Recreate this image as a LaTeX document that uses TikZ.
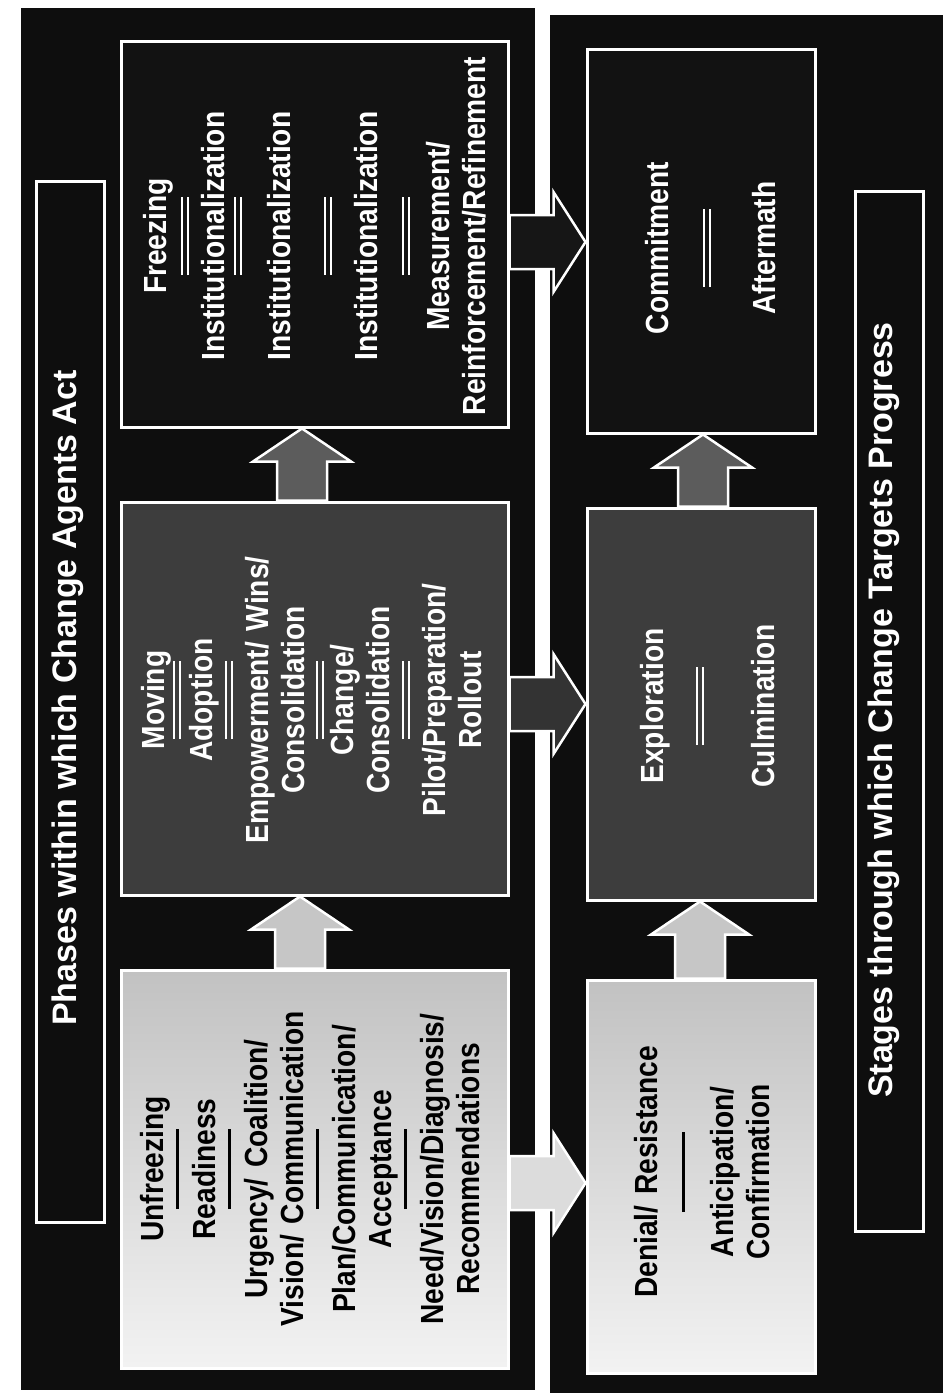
\documentclass[tikz,border=0pt]{standalone}
\usepackage{fontspec}
\setmainfont{Liberation Sans}
\newfontfamily\bxfont[FakeStretch=0.88]{Liberation Sans}
\usetikzlibrary{calc}
\definecolor{panelc}{HTML}{0E0E0E}
\definecolor{midc}{HTML}{3D3D3D}
\definecolor{darkc}{HTML}{121212}
\definecolor{arrowmid}{HTML}{5C5C5C}
\definecolor{arrowmd2}{HTML}{333333}
\definecolor{arrowdk}{HTML}{161616}
\definecolor{arrowlt}{HTML}{C6C6C6}
\definecolor{arrowlt2}{HTML}{DCDCDC}
\newcommand\sepS[2]{\\[#1]\raisebox{10pt}{\rule{80pt}{3.5pt}}\\[#2]}
\newcommand\sepD[2]{\\[#1]\raisebox{8pt}{\rlap{\rule{78pt}{2pt}}\raisebox{6pt}{\rule{78pt}{2pt}}}\\[#2]}
\newcommand\blockright[4]{\draw[#4] let \p1=(#1.east), \p2=(#2.west) in
  (\x1,#3pt+27pt) -- (\x2-32pt,#3pt+27pt) -- (\x2-32pt,#3pt+50pt) -- (\x2,#3pt)
  -- (\x2-32pt,#3pt-50pt) -- (\x2-32pt,#3pt-27pt) -- (\x1,#3pt-27pt) -- cycle;}
\newcommand\blockup[4]{\draw[#4] let \p1=(#1.north), \p2=(#2.south) in
  (#3pt-25pt,\y1) -- (#3pt-25pt,\y2-33pt) -- (#3pt-49pt,\y2-33pt) -- (#3pt,\y2)
  -- (#3pt+49pt,\y2-33pt) -- (#3pt+25pt,\y2-33pt) -- (#3pt+25pt,\y1) -- cycle;}
\tikzset{
  box/.style={draw=white, line width=3pt, inner sep=0pt},
  lightbox/.style={box, top color=black!24, bottom color=black!5},
  midbox/.style={box, fill=midc},
  darkbox/.style={box, fill=darkc},
  titlebox/.style={box, fill=panelc},
  btext/.style={rotate=90, text width=370pt, align=center, inner sep=0pt,
    font=\bxfont\bfseries\fontsize{32}{36}\selectfont},
  ttext/.style={rotate=90, inner sep=0pt, text=white,
    font=\bfseries\fontsize{34}{40}\selectfont},
  barrow/.style={draw=white, line width=2.5pt, line join=miter},
}
\begin{document}
\begin{tikzpicture}[x=1pt,y=1pt]
\useasboundingbox (0,0) rectangle (943,-1399);
\fill[white] (0,0) rectangle (943,-1399);
% panels
\fill[panelc] (21,-8) rectangle (535,-1390);
\fill[panelc] (550,-15) rectangle (943,-1393);
% title boxes
\node[titlebox, minimum width=68pt, minimum height=1040pt] (P) at (70,-702) {};
\node[ttext] (Pt) at (68,-698) {Phases within which Change Agents Act};
\node[titlebox, minimum width=68pt, minimum height=1039pt] (S) at (889,-711.5) {};
\node[ttext] (St) at (884,-710) {Stages through which Change Targets Progress};
% left column boxes
\node[darkbox, minimum width=387pt, minimum height=385pt] (F) at (314.5,-234.5) {};
\node[midbox, minimum width=387pt, minimum height=393pt] (M) at (314.5,-698.5) {};
\node[lightbox, minimum width=387pt, minimum height=398pt] (U) at (314.5,-1169) {};
% right column boxes
\node[darkbox, minimum width=228pt, minimum height=383pt] (C) at (701,-241.5) {};
\node[midbox, minimum width=228pt, minimum height=392pt] (E) at (701,-704) {};
\node[lightbox, minimum width=228pt, minimum height=393pt] (D) at (701,-1176.5) {};
% texts
\node[btext, text=white] (Ft) at (315,-236) {Freezing\sepD{-6pt}{-8pt}Institutionalization\sepD{-11pt}{5pt}Institutionalization\sepD{13pt}{2pt}Institutionalization\sepD{4pt}{-4pt}Measurement/\\Reinforcement/Refinement};
\node[btext, text=white] (Mt) at (312,-700) {Moving\sepD{-12pt}{-12pt}Adoption\sepD{-8pt}{-8pt}Empowerment/ Wins/\\Consolidation\sepD{-9pt}{-14pt}Change/\\Consolidation\sepD{-8pt}{-8pt}Pilot/Preparation/\\Rollout};
\node[btext, text=black] (Ut) at (310,-1169) {Unfreezing\sepS{-10pt}{-10pt}Readiness\sepS{-10pt}{-10pt}Urgency/ Coalition/\\Vision/ Communication\sepS{-10pt}{-10pt}Plan/Communication/\\Acceptance\sepS{-10pt}{-10pt}Need/Vision/Diagnosis/\\Recommendations};
\node[btext, text=white] (Ct) at (711,-248) {Commitment\sepD{14pt}{21pt}Aftermath};
\node[btext, text=white] (Et) at (708,-706) {Exploration\sepD{12pt}{27pt}Culmination};
\node[btext, text=black] (Dt) at (702,-1172) {Denial/ Resistance\sepS{2pt}{2pt}Anticipation/\\Confirmation};
% arrows
\blockup{U}{M}{300}{barrow, fill=arrowlt}
\blockup{M}{F}{302}{barrow, fill=arrowmid}
\blockup{D}{E}{700}{barrow, fill=arrowlt}
\blockup{E}{C}{703}{barrow, fill=arrowmid}
\blockright{F}{C}{-242}{barrow, fill=arrowdk}
\blockright{M}{E}{-704}{barrow, fill=arrowmd2}
\blockright{U}{D}{-1183}{barrow, fill=arrowlt2}
\end{tikzpicture}
\end{document}
